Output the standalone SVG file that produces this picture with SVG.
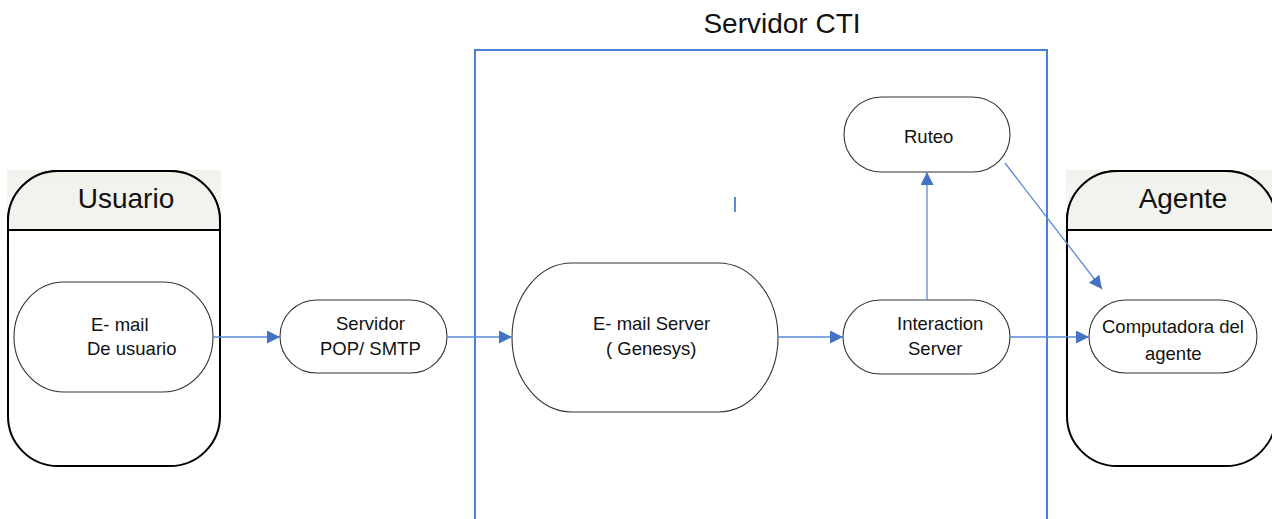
<svg xmlns="http://www.w3.org/2000/svg" width="1272" height="519" viewBox="0 0 1272 519">
  <style>
    text { font-family: "Liberation Sans", Arial, sans-serif; fill: #111; }
    .title { font-size: 28px; }
    .label { font-size: 18.5px; }
    .lane { fill: #fff; stroke: #000; stroke-width: 2; }
    .lane-sep { stroke: #000; stroke-width: 2; }
    .node { fill: #fff; stroke: #333; stroke-width: 1.1; }
    .edge { fill: none; stroke: #5a8ad6; stroke-width: 1.3; marker-end: url(#arrow); }
    .frame { fill: none; stroke: #4a7fd6; stroke-width: 2; }
  </style>
  <defs>
    <linearGradient id="headFill" x1="0" y1="0" x2="0" y2="1">
      <stop offset="0" stop-color="#f1f2ec"/>
      <stop offset="1" stop-color="#fafaf7"/>
    </linearGradient>
    <clipPath id="userHead"><rect x="0" y="160" width="240" height="70"/></clipPath>
    <clipPath id="agentHead"><rect x="1050" y="160" width="240" height="70"/></clipPath>
    <marker id="arrow" markerUnits="userSpaceOnUse" markerWidth="14" markerHeight="14" refX="13" refY="6.5" orient="auto">
      <path d="M0,0 L13,6.5 L0,13 z" fill="#4472c4"/>
    </marker>
  </defs>

  <rect width="1272" height="519" fill="#fff"/>

  <!-- CTI server frame -->
  <g id="servidor-cti">
    <rect class="frame" x="475" y="50" width="572" height="490"/>
    <text class="title" x="782" y="33" text-anchor="middle">Servidor CTI</text>
    <rect x="734" y="197" width="2" height="15" fill="#5a8ad6"/>
  </g>

  <!-- Usuario lane -->
  <g id="usuario">
    <rect x="7" y="170" width="214" height="60" fill="url(#headFill)"/>
    <path class="lane" d="M58,171 H170 A50,50 0 0 1 220,221 V416 A50,50 0 0 1 170,466 H58 A50,50 0 0 1 8,416 V221 A50,50 0 0 1 58,171 Z"/>
    <path d="M58,171 H170 A50,50 0 0 1 220,221 V416 A50,50 0 0 1 170,466 H58 A50,50 0 0 1 8,416 V221 A50,50 0 0 1 58,171 Z" fill="url(#headFill)" clip-path="url(#userHead)"/>
    <path d="M58,171 H170 A50,50 0 0 1 220,221 V230 M8,230 V221 A50,50 0 0 1 58,171" fill="none" stroke="#000" stroke-width="2"/>
    <line class="lane-sep" x1="8" y1="230" x2="220" y2="230"/>
    <text class="title" x="126" y="208" text-anchor="middle">Usuario</text>
  </g>

  <!-- Agente lane -->
  <g id="agente">
    <rect x="1066" y="170" width="206" height="60" fill="url(#headFill)"/>
    <path class="lane" d="M1117,171 H1226 A50,50 0 0 1 1276,221 V416 A50,50 0 0 1 1226,466 H1117 A50,50 0 0 1 1067,416 V221 A50,50 0 0 1 1117,171 Z"/>
    <path d="M1117,171 H1226 A50,50 0 0 1 1276,221 V416 A50,50 0 0 1 1226,466 H1117 A50,50 0 0 1 1067,416 V221 A50,50 0 0 1 1117,171 Z" fill="url(#headFill)" clip-path="url(#agentHead)"/>
    <path d="M1067,230 V221 A50,50 0 0 1 1117,171 H1226 A50,50 0 0 1 1276,221 V230" fill="none" stroke="#000" stroke-width="2"/>
    <line class="lane-sep" x1="1067" y1="230" x2="1276" y2="230"/>
    <text class="title" x="1183" y="208" text-anchor="middle">Agente</text>
  </g>

  <!-- Nodes -->
  <g id="email-usuario">
    <rect class="node" x="14" y="282" width="199" height="110" rx="50" ry="55"/>
    <text class="label" x="91" y="331">E- mail</text>
    <text class="label" x="87" y="355">De usuario</text>
  </g>

  <g id="servidor-pop-smtp">
    <rect class="node" x="280" y="300" width="167" height="73" rx="36.5" ry="36.5"/>
    <text class="label" x="336" y="330">Servidor</text>
    <text class="label" x="320" y="355">POP/ SMTP</text>
  </g>

  <g id="email-server">
    <rect class="node" x="512" y="263" width="266" height="149" rx="60" ry="74.5"/>
    <text class="label" x="593" y="330">E- mail Server</text>
    <text class="label" x="606" y="355">( Genesys)</text>
  </g>

  <g id="interaction-server">
    <rect class="node" x="843" y="300" width="167" height="74" rx="37" ry="37"/>
    <text class="label" x="897" y="330">Interaction</text>
    <text class="label" x="908" y="355">Server</text>
  </g>

  <g id="ruteo">
    <rect class="node" x="844" y="97" width="166" height="75" rx="37.5" ry="37.5"/>
    <text class="label" x="904" y="143">Ruteo</text>
  </g>

  <g id="computadora-agente">
    <rect class="node" x="1089" y="300" width="168" height="73" rx="36.5" ry="36.5"/>
    <text class="label" x="1102" y="333">Computadora del</text>
    <text class="label" x="1145" y="360">agente</text>
  </g>

  <!-- Connectors -->
  <g id="connectors">
    <line class="edge" x1="213" y1="337" x2="280" y2="337"/>
    <line class="edge" x1="447" y1="337" x2="512" y2="337"/>
    <line class="edge" x1="778" y1="337" x2="843" y2="337"/>
    <line class="edge" x1="1010" y1="337" x2="1089" y2="337"/>
    <line class="edge" x1="927" y1="300" x2="927" y2="172"/>
    <line class="edge" x1="1005" y1="163" x2="1102" y2="289"/>
  </g>
</svg>
